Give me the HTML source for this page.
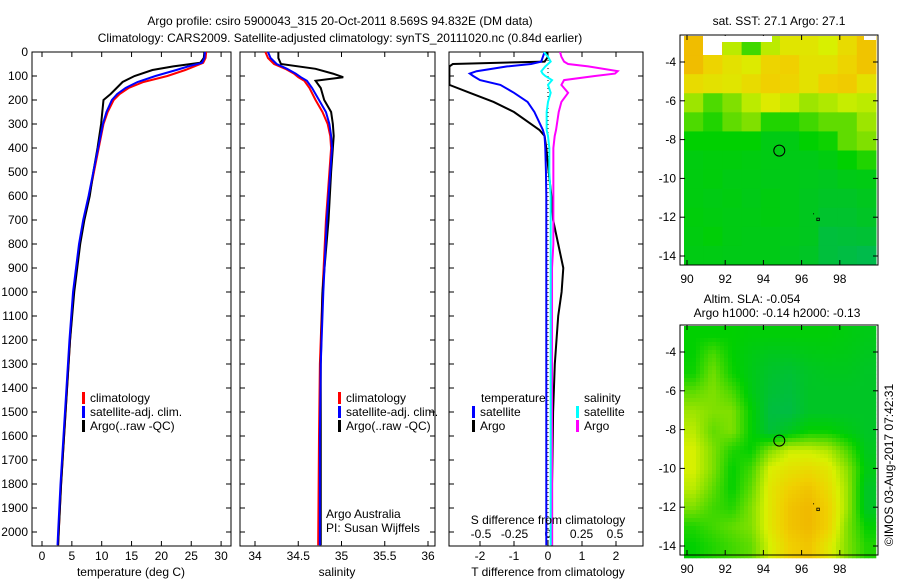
<!DOCTYPE html>
<html><head><meta charset="utf-8"><style>
body{margin:0;background:#fff}
svg text{font-family:"Liberation Sans",sans-serif;font-size:12px;fill:#000}
</style></head><body>
<svg id="c" width="900" height="580" xmlns="http://www.w3.org/2000/svg">
<rect width="900" height="580" fill="#fff"/>
<text x="340" y="25" text-anchor="middle">Argo profile: csiro 5900043_315 20-Oct-2011 8.569S 94.832E (DM data)</text>
<text x="340" y="42" text-anchor="middle">Climatology: CARS2009. Satellite-adjusted climatology: synTS_20111020.nc (0.84d earlier)</text>
<g id="g"></g>
</svg>
<script>
// ---- data ----
const tDepth=[0,25,45,60,75,100,125,150,175,200,250,300,400,500,600,700,800,900,1000,1200,1400,1600,1800,2000,2055];
const tClim=[27.5,27.4,27.0,25.5,24,21,17,14.5,13,12,11,10.3,9.5,8.7,7.9,7.0,6.3,5.8,5.3,4.7,4.2,3.7,3.2,2.8,2.7];
const tSat=[27.3,27.2,26.8,24.5,22.5,19,16,14,12.6,11.7,10.8,10.2,9.4,8.6,7.8,6.9,6.2,5.7,5.2,4.6,4.1,3.6,3.1,2.7,2.6];
const tArgo=[27.2,27.1,26.5,22,18.5,15.5,13.5,12.5,11.5,10.3,10.1,9.9,9.3,8.6,8.0,7.1,6.4,5.9,5.4,4.7,4.2,3.7,3.2,2.8,2.7];
const sDepth=[0,25,50,70,90,105,120,150,200,250,300,350,400,500,700,1000,1300,1600,2055];
const sClim=[34.12,34.15,34.22,34.35,34.45,34.5,34.57,34.63,34.7,34.78,34.84,34.87,34.88,34.86,34.82,34.78,34.75,34.74,34.73];
const sSat=[34.15,34.18,34.25,34.37,34.47,34.53,34.6,34.66,34.74,34.82,34.86,34.88,34.89,34.87,34.83,34.79,34.76,34.75,34.75];
const sArgo=[34.27,34.27,34.3,34.7,34.9,35.02,34.7,34.76,34.8,34.88,34.9,34.91,34.9,34.88,34.85,34.78,34.76,34.76,34.76];
const dDepth=[0,20,40,50,60,80,90,100,117,137,170,208,250,325,350,400,500,600,700,800,900,1000,1100,1300,1500,1800,2055];
const dTSat=[-0.1,-0.15,-0.2,-0.5,-1.2,-2.1,-2.3,-2.2,-2.0,-1.4,-1.0,-0.6,-0.4,-0.15,-0.1,-0.08,-0.06,-0.05,-0.05,-0.05,-0.05,-0.05,-0.05,-0.05,-0.05,-0.05,-0.05];
const dTArgo=[-0.05,0.0,-0.1,-2.8,-2.9,-2.9,-2.9,-2.9,-2.9,-2.9,-2.3,-1.6,-1.0,-0.25,-0.1,-0.05,0.02,0.1,0.15,0.3,0.45,0.4,0.3,0.2,0.15,0.12,0.12];
const dSSat=[-0.03,0.0,0.02,0.0,-0.02,-0.05,-0.04,-0.02,0.03,0.0,0.02,0.0,-0.01,-0.01,0.0,0.01,0.01,0.02,0.02,0.02,0.02,0.02,0.02,0.02,0.02,0.02,0.02];
const dSArgo=[0.09,0.1,0.12,0.15,0.3,0.52,0.5,0.35,0.12,0.1,0.15,0.1,0.08,0.06,0.05,0.04,0.04,0.04,0.04,0.04,0.03,0.03,0.03,0.03,0.03,0.03,0.03];
const depthTicks=[0,100,200,300,400,500,600,700,800,900,1000,1100,1200,1300,1400,1500,1600,1700,1800,1900,2000];
const tTicks=[0,5,10,15,20,25,30];
const sTicks=[34,34.5,35,35.5,36];
const dTTicks=[-2,-1,0,1,2];
const dSTicks=[-0.5,-0.25,0,0.25,0.5];
const lonTicks=[90,92,94,96,98];
const latTicks=[-4,-6,-8,-10,-12,-14];
const sstGrid=[
[.88,.85,.6,.4,.6,.7,.7,.65,.75,.85],[.88,.78,.72,.68,.78,.8,.72,.72,.78,.85],[.75,.72,.7,.75,.8,.78,.72,.8,.82,.72],
[.55,.42,.5,.6,.68,.62,.55,.58,.62,.6],[.42,.35,.45,.5,.35,.35,.4,.45,.45,.55],[.3,.3,.3,.3,.25,.25,.3,.32,.45,.5],
[.26,.27,.27,.26,.25,.24,.24,.26,.3,.35],[.26,.27,.25,.25,.24,.24,.23,.22,.24,.25],[.26,.25,.26,.24,.26,.24,.22,.2,.2,.22],
[.27,.26,.25,.25,.26,.24,.22,.18,.18,.2],[.26,.28,.25,.24,.24,.23,.22,.14,.15,.16],[.25,.25,.24,.24,.24,.22,.2,.14,.12,.1]];
const slaGrid=[
[.3,.3,.3,.28,.28,.28,.28,.28,.26,.24],[.3,.42,.3,.25,.22,.22,.24,.25,.24,.22],[.32,.48,.32,.24,.18,.16,.2,.22,.22,.2],
[.45,.5,.42,.25,.16,.14,.2,.2,.2,.2],[.55,.5,.5,.3,.13,.12,.2,.2,.2,.2],[.6,.45,.5,.3,.15,.22,.3,.3,.25,.2],
[.65,.5,.35,.3,.5,.62,.62,.58,.42,.22],[.65,.5,.3,.4,.66,.72,.75,.7,.52,.25],[.6,.45,.3,.45,.7,.8,.85,.75,.55,.2],
[.5,.4,.35,.5,.7,.85,.9,.8,.55,.2],[.35,.4,.45,.5,.7,.85,.9,.8,.5,.3],[.3,.35,.4,.45,.65,.8,.85,.7,.5,.35]];
// ---- drawing ----
const NS='http://www.w3.org/2000/svg';const G=document.getElementById('g');
function mk(t,a,p){const e=document.createElementNS(NS,t);for(const k in a)e.setAttribute(k,a[k]);(p||G).appendChild(e);return e;}
const Y=d=>52+d*0.24;
function frame(x0,x1,name){const r=mk('rect',{x:x0,y:52,width:x1-x0,height:494,fill:'none',stroke:'#000'});}
function xt(X,ticks,lab,yy){ticks.forEach(v=>{mk('line',{x1:X(v),x2:X(v),y1:546,y2:541,stroke:'#000'});mk('line',{x1:X(v),x2:X(v),y1:52,y2:57,stroke:'#000'});
 const t=mk('text',{x:X(v),y:yy,'text-anchor':'middle'});t.textContent=lab(v);});}
function line(X,xs,ds,col,name,w){const p=mk('polyline',{points:xs.map((v,i)=>X(v)+','+Y(ds[i])).join(' '),fill:'none',stroke:col,'stroke-width':w||2});}
function txt(x,y,s,name,anchor){const t=mk('text',{x:x,y:y,'text-anchor':anchor||'start'});t.textContent=s;return t;}
function leg(x,y,col,s,name){mk('rect',{x:x,y:y-10,width:3,height:12,fill:col});txt(x+8,y,s,name);}
// panel 1
const XT=v=>42+v*5.97;
frame(32,231,'temperature-panel');
depthTicks.forEach(d=>{mk('line',{x1:32,x2:37,y1:Y(d),y2:Y(d),stroke:'#000'});mk('line',{x1:231,x2:226,y1:Y(d),y2:Y(d),stroke:'#000'});
 mk('line',{x1:240,x2:245,y1:Y(d),y2:Y(d),stroke:'#000'});mk('line',{x1:435,x2:430,y1:Y(d),y2:Y(d),stroke:'#000'});
 txt(28,Y(d)+4,String(d),'y-tick-label','end');});
xt(XT,tTicks,v=>v,560);
line(XT,tClim,tDepth,'#f00','temp-climatology-line');line(XT,tArgo,tDepth,'#000','temp-argo-line');line(XT,tSat,tDepth,'#00f','temp-satellite-line');
txt(131,576,'temperature (deg C)','x-axis-title','middle');
leg(82,402,'#f00','climatology','legend-climatology');leg(82,416,'#00f','satellite-adj. clim.','legend-satellite');leg(82,430,'#000','Argo(..raw -QC)','legend-argo');
// panel 2
const XS=v=>255+(v-34)*86.5;
frame(240,435,'salinity-panel');
xt(XS,sTicks,v=>v,560);
line(XS,sClim,sDepth,'#f00','sal-climatology-line');line(XS,sArgo,sDepth,'#000','sal-argo-line');line(XS,sSat,sDepth,'#00f','sal-satellite-line');
txt(337,576,'salinity','x-axis-title','middle');
leg(338,402,'#f00','climatology','legend-climatology-2');leg(338,416,'#00f','satellite-adj. clim.','legend-satellite-2');leg(338,430,'#000','Argo(..raw -QC)','legend-argo-2');
txt(326,518,'Argo Australia','credit-line-1');txt(326,532,'PI: Susan Wijffels','credit-line-2');
// panel 3
const XD=v=>548+v*34, XSD=v=>548+v*134;
frame(449,643,'difference-panel');
depthTicks.forEach(d=>{mk('line',{x1:449,x2:454,y1:Y(d),y2:Y(d),stroke:'#000'});mk('line',{x1:643,x2:638,y1:Y(d),y2:Y(d),stroke:'#000'});});
xt(XD,dTTicks,v=>v,560);
dSTicks.forEach(v=>txt(XSD(v),538,String(v),'s-tick-label','middle'));
mk('line',{x1:548,x2:548,y1:52,y2:546,stroke:'#000','stroke-dasharray':'1,3'});
mk('clipPath',{id:'c3'}).appendChild(mk('rect',{x:449,y:52,width:194,height:494}));
const cg=mk('g',{'clip-path':'url(#c3)'});
function line3(X,xs,col,name){const p=mk('polyline',{points:xs.map((v,i)=>X(v)+','+Y(dDepth[i])).join(' '),fill:'none',stroke:col,'stroke-width':2},cg);}
line3(XD,dTArgo,'#000','tdiff-argo-line');line3(XD,dTSat,'#00f','tdiff-satellite-line');line3(XSD,dSArgo,'#f0f','sdiff-argo-line');line3(XSD,dSSat,'#0ff','sdiff-satellite-line');
txt(548,576,'T difference from climatology','x-axis-title','middle');txt(548,524,'S difference from climatology','s-axis-title','middle');
txt(481,402,'temperature','legend-temp-heading');txt(584,402,'salinity','legend-sal-heading');
leg(472,416,'#00f','satellite','legend-t-satellite');leg(472,430,'#000','Argo','legend-t-argo');
leg(576,416,'#0ff','satellite','legend-s-satellite');leg(576,430,'#f0f','Argo','legend-s-argo');
// maps
const stops=[[0,[0,176,112]],[.3,[0,208,0]],[.5,[128,224,0]],[.65,[216,240,0]],[.8,[240,208,0]],[1,[240,160,0]]];
function cm(v){v=Math.max(0,Math.min(1,v));for(let i=1;i<stops.length;i++){if(v<=stops[i][0]){const a=stops[i-1],b=stops[i],f=(v-a[0])/(b[0]-a[0]);return 'rgb('+a[1].map((c,j)=>Math.round(c+(b[1][j]-c)*f)).join(',')+')';}}return 'rgb(240,160,0)';}
function sample(grid,fr,fc,smooth){const nr=grid.length,nc=grid[0].length;
 if(!smooth)return grid[Math.min(nr-1,Math.floor(fr))][Math.min(nc-1,Math.floor(fc))];
 let r=Math.max(0,Math.min(nr-1.001,fr-0.5)),c=Math.max(0,Math.min(nc-1.001,fc-0.5));const r0=Math.floor(r),c0=Math.floor(c),a=r-r0,b=c-c0;
 return grid[r0][c0]*(1-a)*(1-b)+grid[r0+1][c0]*a*(1-b)+grid[r0][c0+1]*(1-a)*b+grid[r0+1][c0+1]*a*b;}
function map(oy,grid,title,name,smooth){
 const LX=v=>687+(v-90)*19.1, LY=v=>oy+62+(-4-v)*19.4;
 const x0=684,x1=876,y0=oy+36,y1=oy+265,nr=grid.length,nc=grid[0].length,s=smooth?4:(x1-x0)/nc;
 if(smooth){for(let y=y0;y<y1;y+=4)for(let x=x0;x<x1;x+=4){const v=sample(grid,(y+2-y0)/(y1-y0)*nr,(x+2-x0)/(x1-x0)*nc,true);
  const e=mk('rect',{x:x,y:y,width:4.3,height:4.3,fill:cm(v)});}}
 else grid.forEach((row,r)=>row.forEach((v,c)=>{const x=x0+(x1-x0)*c/nc,y=y0+(y1-y0)*r/nr;
  const e=mk('rect',{x:x,y:y,width:(x1-x0)/nc+0.5,height:(y1-y0)/nr+0.5,fill:cm(v)});}));
 const f=mk('rect',{x:680,y:oy+35,width:198,height:230,fill:'none',stroke:'#000'});
 lonTicks.forEach(v=>{mk('line',{x1:LX(v),x2:LX(v),y1:oy+265,y2:oy+260,stroke:'#000'});mk('line',{x1:LX(v),x2:LX(v),y1:oy+35,y2:oy+40,stroke:'#000'});txt(LX(v),oy+283,String(v),'lon-tick-label','middle');});
 latTicks.forEach(v=>{mk('line',{x1:680,x2:685,y1:LY(v),y2:LY(v),stroke:'#000'});mk('line',{x1:878,x2:873,y1:LY(v),y2:LY(v),stroke:'#000'});txt(676,LY(v)+4,String(v),'lat-tick-label','end');});
 const c=mk('circle',{cx:LX(94.832),cy:LY(-8.569),r:5.5,fill:'none',stroke:'#000'});
 mk('rect',{x:LX(96.85)-1,y:LY(-12.1)-1,width:2.5,height:2.5,fill:'none',stroke:'#000','stroke-width':0.8});mk('rect',{x:LX(96.6),y:LY(-11.8),width:1,height:1,fill:'#000'});}
map(0,sstGrid,[],'sst-map',false);
mk('rect',{x:703,y:36,width:19,height:19,fill:'#fff'});mk('rect',{x:705,y:36,width:67,height:6,fill:'#fff'});mk('rect',{x:864,y:36,width:12,height:4,fill:'#fff'});
txt(779,25,'sat. SST: 27.1 Argo: 27.1','map-title','middle');
map(290,slaGrid,[],'sla-map',true);
txt(752,303,'Altim. SLA: -0.054','map-title','middle');txt(777,317,'Argo h1000: -0.14 h2000: -0.13','map-title','middle');
const cp=txt(0,0,'©IMOS 03-Aug-2017 07:42:31','copyright-timestamp','middle');cp.setAttribute('transform','translate(893,465) rotate(-90)');
</script>
</body></html>
